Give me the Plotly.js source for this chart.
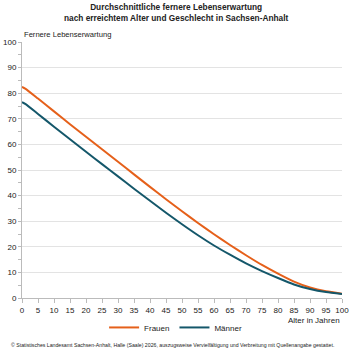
<!DOCTYPE html>
<html>
<head>
<meta charset="utf-8">
<script src="https://cdn.plot.ly/plotly-3.0.1.min.js"></script>
<style>
  html, body { margin: 0; padding: 0; background: #fff; }
  #chart { width: 350px; height: 350px; }
</style>
</head>
<body>
<div id="chart"></div>
<script>
// Alter in Jahren
const alter = [0, 1, 5, 10, 15, 20, 25, 30, 35, 40, 45, 50, 55, 60, 65, 70, 75, 80, 85, 90, 95, 100];
// Fernere Lebenserwartung in Jahren
const frauen = [82.5, 81.8, 77.9, 72.9, 67.9, 63.0, 58.1, 53.2, 48.3, 43.4, 38.6, 33.9, 29.3, 24.9, 20.7, 16.7, 12.9, 9.5, 6.4, 4.1, 2.6, 1.7];
const maenner = [76.5, 75.8, 71.9, 66.9, 62.0, 57.1, 52.3, 47.5, 42.7, 38.0, 33.3, 28.8, 24.5, 20.5, 16.9, 13.5, 10.5, 7.8, 5.3, 3.5, 2.3, 1.6];

const font = 'Liberation Sans, Arial, sans-serif';

const traces = [
  { x: alter, y: frauen, name: 'Frauen', mode: 'lines', line: { color: '#e5601a', width: 2, shape: 'spline', smoothing: 0.6 } },
  { x: alter, y: maenner, name: 'Männer', mode: 'lines', line: { color: '#14576a', width: 2, shape: 'spline', smoothing: 0.6 } }
];

const layout = {
  width: 350, height: 350,
  margin: { l: 22, r: 8, t: 42, b: 50 },
  paper_bgcolor: '#fff', plot_bgcolor: '#fff',
  font: { family: font, size: 8, color: '#222' },
  xaxis: {
    range: [0, 100], tick0: 0, dtick: 5, ticks: 'outside', ticklen: 4, tickcolor: '#bbb',
    showline: true, linecolor: '#bbb', linewidth: 1, showgrid: false, zeroline: false,
    tickfont: { family: font, size: 8, color: '#222' }, fixedrange: true
  },
  yaxis: {
    range: [0, 100], dtick: 10, ticks: 'outside', ticklen: 3, tickcolor: '#bbb',
    showline: true, linecolor: '#bbb', linewidth: 1, showgrid: true, gridcolor: '#e3e3e3', gridwidth: 1,
    zeroline: false, tickfont: { family: font, size: 8, color: '#222' },
    minor: { dtick: 5, ticks: 'outside', ticklen: 3, tickcolor: '#bbb', showgrid: false },
    fixedrange: true
  },
  showlegend: true,
  legend: {
    orientation: 'h', x: 0.48, xanchor: 'center', y: -0.115, yanchor: 'middle',
    font: { family: font, size: 8, color: '#222' }, itemwidth: 30, tracegroupgap: 0
  },
  annotations: [
    { text: '<b>Durchschnittliche fernere Lebenserwartung</b><br><b>nach erreichtem Alter und Geschlecht in Sachsen-Anhalt</b>',
      xref: 'paper', yref: 'paper', x: 0.48, xanchor: 'center', y: 1.117, yanchor: 'middle',
      showarrow: false, align: 'center', font: { family: font, size: 8.3, color: '#222' } },
    { text: 'Fernere Lebenserwartung', xref: 'paper', yref: 'paper', x: 0, xanchor: 'left',
      y: 1.03, yanchor: 'middle', showarrow: false, font: { family: font, size: 7.6, color: '#222' } },
    { text: 'Alter in Jahren', xref: 'paper', yref: 'paper', x: 1, xanchor: 'right',
      y: -0.087, yanchor: 'middle', showarrow: false, font: { family: font, size: 8, color: '#222' } },
    { text: '© Statistisches Landesamt Sachsen-Anhalt, Halle (Saale) 2026, auszugsweise Vervielfältigung und Verbreitung mit Quellenangabe gestattet.',
      xref: 'paper', yref: 'paper', x: 0.47, xanchor: 'center', y: -0.183, yanchor: 'middle',
      showarrow: false, font: { family: font, size: 5.2, color: '#222' } }
  ]
};

Plotly.newPlot('chart', traces, layout, { displayModeBar: false, staticPlot: true });
</script>
</body>
</html>
